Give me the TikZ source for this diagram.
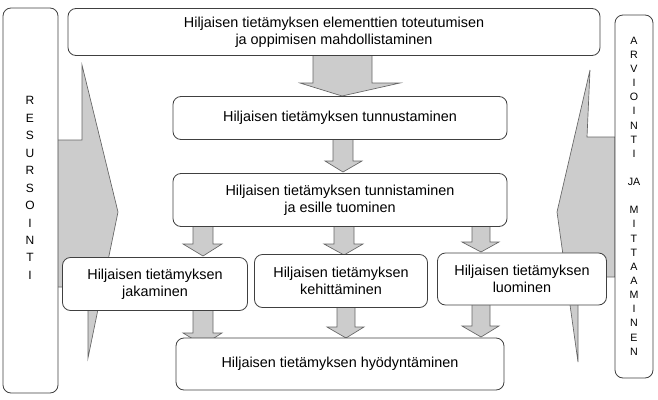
\documentclass[tikz,border=0pt]{standalone}
\usepackage{fontspec}
\setmainfont{Liberation Sans}
\begin{document}
\begin{tikzpicture}[x=0.75pt,y=-0.75pt,
  box/.style={draw=black!75,line width=0.6pt,rounded corners=6pt,fill=white,align=center,inner sep=0pt,font=\fontsize{10.8}{13}\selectfont},
  bar/.style={draw=black!75,line width=0.6pt,rounded corners=6pt,fill=white},
  blk/.style={draw=black!60,line width=0.5pt,fill=black!20},
  vtext/.style={align=center,inner sep=0pt,font=\fontsize{8}{10.6}\selectfont}]
\useasboundingbox (0,0) rectangle (658,400);
% side arrows
\draw[blk] (53,140)--(82,140)--(82,65)--(118,212)--(88,358)--(88,287)--(53,287)--cycle;
\draw[blk] (615,137)--(587,137)--(590,70)--(557,212)--(578,362)--(578,277)--(615,277)--cycle;
% side bars
\draw[bar] (3,8) rectangle (58,393);
\draw[bar] (615,15) rectangle (653,378);
\node[vtext,font=\fontsize{9}{13.1}\selectfont] (res) at (30,188) {R\\E\\S\\U\\R\\S\\O\\I\\N\\T\\I};
\node[vtext] (arv) at (634,196) {A\\R\\V\\I\\O\\I\\N\\T\\I\\[10.6pt]JA\\[10.6pt]M\\I\\T\\T\\A\\A\\M\\I\\N\\E\\N};
% down block arrows
\draw[blk] (313,55)--(372,55)--(372,83)--(400,83)--(342,96)--(300,83)--(313,83)--cycle;
\draw[blk] (333,139)--(353,139)--(353,161)--(362,161)--(343,172)--(325,161)--(333,161)--cycle;
\draw[blk] (193,226)--(213,226)--(213,244)--(222,244)--(203,256)--(183,244)--(193,244)--cycle;
\draw[blk] (334,226)--(354,226)--(354,244)--(363,244)--(344,255)--(324,244)--(334,244)--cycle;
\draw[blk] (472,226)--(490,226)--(490,242)--(499,242)--(481,252)--(462,242)--(472,242)--cycle;
\draw[blk] (193,308)--(213,308)--(213,333)--(222,333)--(203,345)--(183,333)--(193,333)--cycle;
\draw[blk] (337,306)--(355,306)--(355,327)--(364,327)--(346,338)--(327,327)--(337,327)--cycle;
\draw[blk] (472,303)--(490,303)--(490,326)--(499,326)--(481,337)--(462,326)--(472,326)--cycle;
% boxes
\node[box,minimum width=532*0.75pt,minimum height=47*0.75pt] (top) at (334,32) {Hiljaisen tietämyksen elementtien toteutumisen\\ja oppimisen mahdollistaminen};
\node[box,minimum width=334*0.75pt,minimum height=43*0.75pt] (tunnus) at (340,118) {Hiljaisen tietämyksen tunnustaminen};
\node[box,minimum width=334*0.75pt,minimum height=53*0.75pt] (tunnis) at (340,200) {Hiljaisen tietämyksen tunnistaminen\\ja esille tuominen};
\node[box,minimum width=185*0.75pt,minimum height=53*0.75pt] (jak) at (155,284) {Hiljaisen tietämyksen\\jakaminen};
\node[box,minimum width=173*0.75pt,minimum height=53*0.75pt] (keh) at (341,281) {Hiljaisen tietämyksen\\kehittäminen};
\node[box,minimum width=169*0.75pt,minimum height=52*0.75pt] (luo) at (522,279) {Hiljaisen tietämyksen\\luominen};
\node[box,minimum width=328*0.75pt,minimum height=52*0.75pt] (hyo) at (340,364) {Hiljaisen tietämyksen hyödyntäminen};
\end{tikzpicture}
\end{document}
